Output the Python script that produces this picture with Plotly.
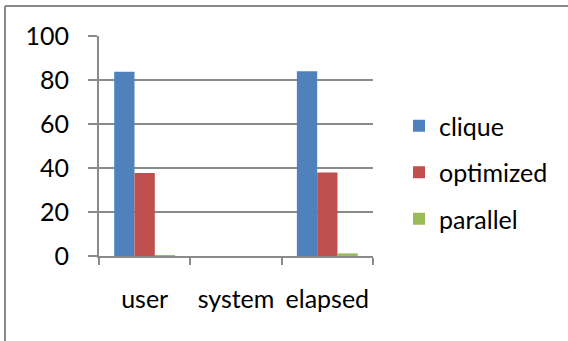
import plotly.graph_objects as go

# Timing results (seconds) per measurement type
categories = ["user", "system", "elapsed"]
clique = [83.8, 0.0, 84.0]
optimized = [37.7, 0.0, 38.0]
parallel = [0.2, 0.0, 1.2]

series_names = ["clique", "optimized", "parallel"]
series_colors = ["#4F81BD", "#C0504D", "#9BBB59"]

W, H = 568, 341
L, R, T, B = 99, 195, 36, 85
PW, PH = W - L - R, H - T - B


def px_x(p):
    return (p - L) / PW


def px_y(p):
    return (H - B - p) / PH


fig = go.Figure()
for i, (name, vals) in enumerate(zip(series_names, [clique, optimized, parallel])):
    fig.add_trace(go.Bar(
        x=categories, y=vals, name=name, legendgroup=name,
        marker=dict(color=series_colors[i], line=dict(width=0)),
    ))

axis_gray = "#8A8A8A"
font_family = "Lato, 'Open Sans', sans-serif"

fig.update_layout(
    width=W, height=H,
    margin=dict(l=L, r=R, t=T, b=B, autoexpand=False),
    paper_bgcolor="white", plot_bgcolor="white",
    barmode="group", bargap=0.333, bargroupgap=0,
    font=dict(family=font_family, size=25, color="#000000"),
    showlegend=True,
    legend=dict(
        x=px_x(399), y=px_y(103), xanchor="left", yanchor="top",
        font=dict(size=25), tracegroupgap=11, itemwidth=30,
        bgcolor="rgba(0,0,0,0)",
    ),
    xaxis=dict(
        type="category", tickson="boundaries", ticks="outside", ticklen=7,
        tickwidth=2, tickcolor=axis_gray, showline=True, linecolor=axis_gray,
        linewidth=2, showgrid=False, ticklabelstandoff=20, tickangle=0,
        automargin=False, tickfont=dict(size=25),
    ),
    yaxis=dict(
        range=[0, 100], tickmode="linear", tick0=0, dtick=20,
        ticks="outside", ticklen=9, tickwidth=2, tickcolor=axis_gray,
        showline=True, linecolor=axis_gray, linewidth=2,
        showgrid=True, gridcolor=axis_gray, gridwidth=1.5,
        zeroline=False, ticklabelstandoff=14, automargin=False,
        tickfont=dict(size=25),
    ),
    shapes=[
        dict(type="line", xref="paper", yref="paper",
             x0=px_x(5), x1=px_x(575), y0=px_y(6), y1=px_y(6),
             line=dict(color=axis_gray, width=2)),
        dict(type="line", xref="paper", yref="paper",
             x0=px_x(5), x1=px_x(5), y0=px_y(6), y1=px_y(350),
             line=dict(color=axis_gray, width=2)),
    ],
)

fig.write_html("out.html")
